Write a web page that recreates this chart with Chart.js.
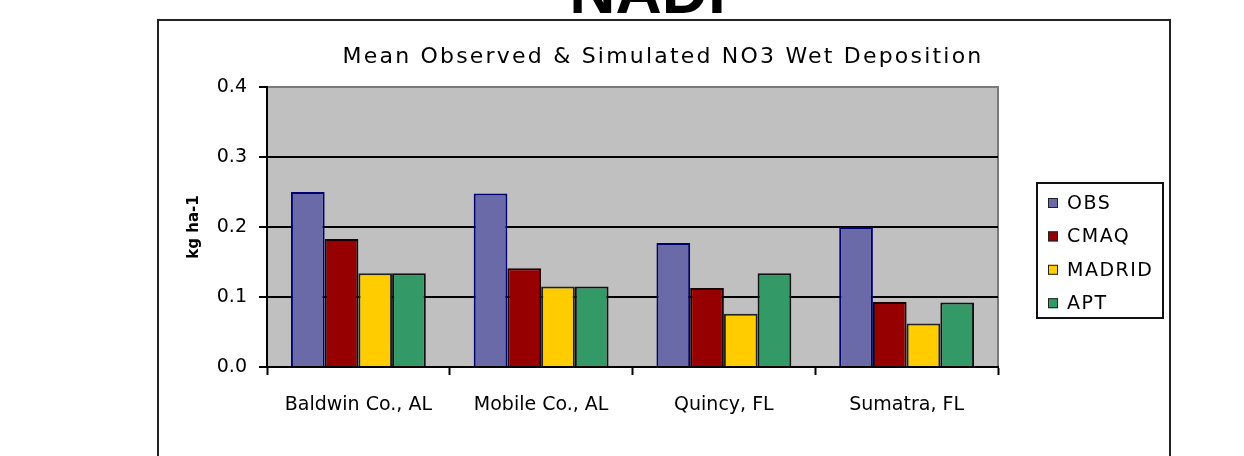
<!DOCTYPE html>
<html>
<head>
<meta charset="utf-8">
<script src="https://cdn.jsdelivr.net/npm/chart.js@4.4.1/dist/chart.umd.min.js"></script>
<style>
  html, body { margin: 0; padding: 0; background: #ffffff; }
  canvas { display: block; }
</style>
</head>
<body>
<canvas id="c" width="1244" height="456"></canvas>
<script>
// Sites and mean wet deposition (kg ha-1) per source
const sites = ['Baldwin Co., AL', 'Mobile Co., AL', 'Quincy, FL', 'Sumatra, FL'];
const obs    = [0.250, 0.248, 0.177, 0.200];
const cmaq   = [0.183, 0.141, 0.113, 0.093];
const madrid = [0.134, 0.115, 0.076, 0.062];
const apt    = [0.134, 0.115, 0.134, 0.092];
const seriesNames = ['OBS', 'CMAQ', 'MADRID', 'APT'];
const yTickLabels = ['0.0', '0.1', '0.2', '0.3', '0.4'];
const chartTitle = 'Mean Observed & Simulated NO3 Wet Deposition';
const pageHeading = 'NADP';
const yTitle = 'kg ha-1';

const fills   = ['#6a6aa8', '#960000', '#ffcc00', '#339966'];
const borders = ['#000070', '#1a0000', '#222222', '#111111'];

const seriesValues = [obs, cmaq, madrid, apt];

// Gray plot panel behind the bars
const panel = {
  id: 'panel',
  beforeDraw(chart) {
    const { ctx, chartArea: a } = chart;
    ctx.save();
    ctx.fillStyle = '#c0c0c0';
    ctx.fillRect(a.left, a.top, a.right - a.left, a.bottom - a.top);
    ctx.strokeStyle = '#7a7a7a';
    ctx.lineWidth = 2;
    ctx.strokeRect(a.left, a.top, a.right - a.left, a.bottom - a.top);
    ctx.restore();
  }
};

// Frame, heading, title and legend box
const decor = {
  id: 'decor',
  afterDraw(chart) {
    const ctx = chart.ctx;
    ctx.save();
    // outer frame
    ctx.strokeStyle = '#222222';
    ctx.lineWidth = 2;
    ctx.strokeRect(158, 20, 1012, 500);

    // large page heading, mostly above the top edge
    ctx.fillStyle = '#000000';
    ctx.font = 'bold 64px "Liberation Sans", Arial, sans-serif';
    ctx.textAlign = 'center';
    ctx.textBaseline = 'alphabetic';
    ctx.fillText(pageHeading, 660, 13);

    // chart title
    ctx.font = '22px "DejaVu Sans", sans-serif';
    ctx.letterSpacing = '2.2px';
    ctx.fillStyle = '#000000';
    ctx.fillText(chartTitle, 663, 63);

    // legend
    const lx = 1037, ly = 183, lw = 126, lh = 135;
    ctx.letterSpacing = '1.5px';
    ctx.lineWidth = 2;
    ctx.strokeStyle = '#111111';
    ctx.strokeRect(lx, ly, lw, lh);
    ctx.font = '19px "DejaVu Sans", sans-serif';
    ctx.textAlign = 'left';
    ctx.textBaseline = 'middle';
    chart.data.datasets.forEach((ds, i) => {
      const cy = 203 + i * 33.4;
      ctx.fillStyle = ds.backgroundColor;
      ctx.fillRect(1048, cy - 5, 10, 10);
      ctx.lineWidth = 1;
      ctx.strokeStyle = '#222222';
      ctx.strokeRect(1048.5, cy - 4.5, 9, 9);
      ctx.fillStyle = '#000000';
      ctx.fillText(ds.label, 1067, cy + 1);
    });
    ctx.restore();
  }
};

new Chart(document.getElementById('c'), {
  type: 'bar',
  data: {
    labels: sites,
    datasets: seriesNames.map((name, i) => ({
      label: name,
      data: seriesValues[i],
      backgroundColor: fills[i],
      borderColor: borders[i],
      borderWidth: 2,
      barPercentage: 1.0,
      categoryPercentage: 0.738
    }))
  },
  options: {
    responsive: false,
    animation: false,
    layout: { padding: { top: 87, right: 246, bottom: 29, left: 157 } },
    plugins: {
      legend: { display: false },
      title: { display: false },
      tooltip: { enabled: false }
    },
    scales: {
      x: {
        afterFit(scale) { scale.height = 60; },
        grid: {
          offset: true,
          drawOnChartArea: false,
          drawTicks: true,
          tickLength: 8,
          tickColor: '#000000',
          tickWidth: 2
        },
        border: { color: '#000000', width: 2 },
        ticks: {
          padding: 19,
          color: '#000000',
          font: { family: '"DejaVu Sans", sans-serif', size: 19 },
          maxRotation: 0,
          autoSkip: false
        }
      },
      y: {
        min: 0,
        max: 0.4,
        afterFit(scale) { scale.width = 110; },
        grid: {
          color: (c) => (c.tick && c.tick.value >= 0.4 ? '#7a7a7a' : '#000000'),
          lineWidth: 2,
          tickLength: 8,
          tickColor: '#000000',
          tickWidth: 2
        },
        border: { color: '#000000', width: 2 },
        ticks: {
          stepSize: 0.1,
          padding: 12,
          color: '#000000',
          font: { family: '"DejaVu Sans", sans-serif', size: 19 },
          callback: (v, i) => yTickLabels[i]
        },
        title: {
          display: true,
          text: yTitle,
          color: '#000000',
          font: { family: '"DejaVu Sans", sans-serif', size: 15, weight: 'bold' },
          padding: { top: 28, bottom: 0 }
        }
      }
    }
  },
  plugins: [panel, decor]
});
</script>
</body>
</html>
